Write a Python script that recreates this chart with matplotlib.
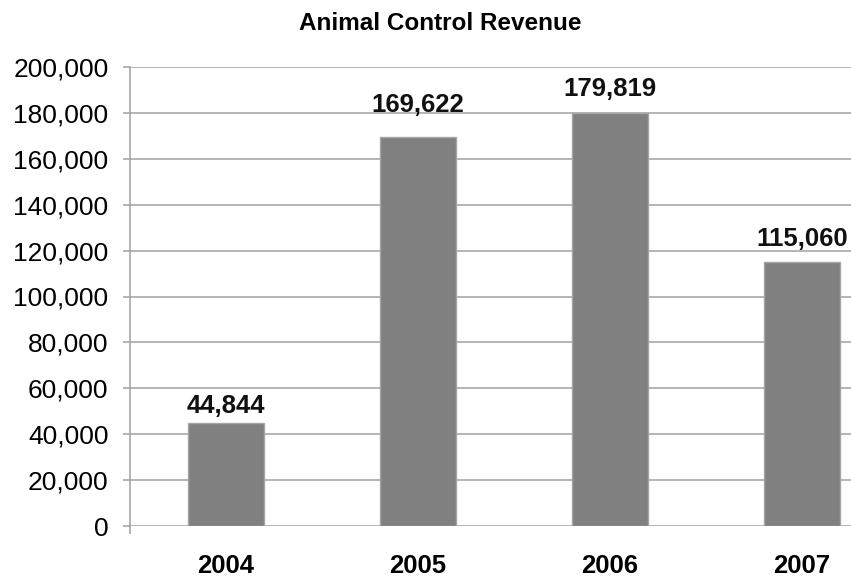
import matplotlib.pyplot as plt
from matplotlib.ticker import FuncFormatter

plt.rcParams['font.family'] = ['Liberation Sans', 'DejaVu Sans']

years = ['2004', '2005', '2006', '2007']
revenue = [44844, 169622, 179819, 115060]
yticks = list(range(0, 200001, 20000))

# gap (points) between each bar top and its value label baseline
label_gap = [7.6, 18, 12.2, 11.5]

fig = plt.figure(figsize=(8.51, 5.78), dpi=100)
ax = fig.add_axes([130 / 851, 1 - 526 / 578, 721 / 851, (526 - 67) / 578])

x = range(len(years))
bars = ax.bar(x, revenue, width=0.4, color='#808080', edgecolor='#a6a6a6', linewidth=1, zorder=3)

for b, v, g in zip(bars, revenue, label_gap):
    ax.annotate(f'{v:,}', (b.get_x() + b.get_width() / 2, v), xytext=(0, g),
                textcoords='offset points', ha='center', va='baseline',
                fontsize=18.5, fontweight='bold', color='#111111')

ax.set_ylim(0, 200000)
ax.set_xlim(-0.5, 3.255)
ax.set_yticks(yticks)
ax.yaxis.set_major_formatter(FuncFormatter(lambda v, p: f'{int(v):,}'))
ax.yaxis.grid(True, color='#a0a0a0', linewidth=1.1, zorder=0)
ax.set_axisbelow(True)

ax.set_xticks(list(x))
ax.set_xticklabels(years, fontsize=18.5, fontweight='bold')
ax.tick_params(axis='x', length=0, pad=20)
ax.set_xticks([-0.5], minor=True)
ax.tick_params(axis='x', which='minor', length=5.8, color='#a0a0a0', width=1.1)
ax.tick_params(axis='y', length=5, color='#a0a0a0', width=1.1, labelsize=19, pad=10.5)

for s in ['top', 'right', 'bottom']:
    ax.spines[s].set_visible(False)
ax.spines['left'].set_color('#a0a0a0')
ax.spines['left'].set_linewidth(1.1)

fig.text(440 / 851, 1 - 23 / 578, 'Animal Control Revenue', ha='center', va='center',
         fontsize=17.5, fontweight='bold')

fig.savefig('out.png', dpi=100)
